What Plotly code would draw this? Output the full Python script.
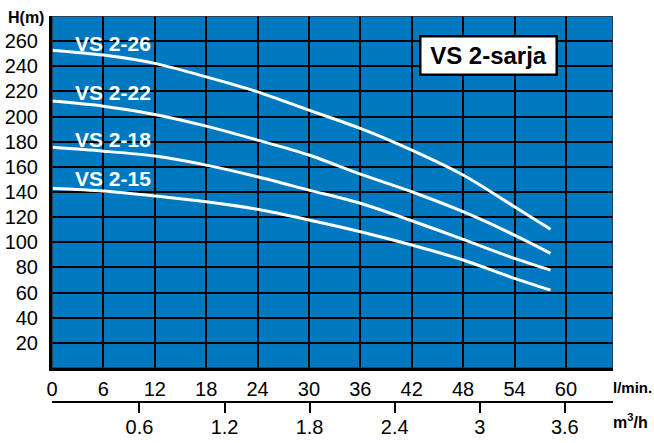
import plotly.graph_objects as go

# Flow (l/min) sample points
flow = [0, 6, 12, 18, 24, 30, 36, 42, 48, 54, 58.2]

# Head (m) for each pump model
vs_2_26 = [252.8, 248.9, 242.3, 231.6, 219.7, 205.1, 190.6, 173.3, 153.5, 128.3, 110.3]
vs_2_22 = [212.3, 208.3, 201.7, 192.4, 181.3, 169.4, 154.2, 140.2, 124.3, 105.7, 91.2]
vs_2_18 = [175.5, 172.5, 168.6, 161.4, 152.1, 141.5, 131.0, 117.1, 102.3, 87.2, 77.9]
vs_2_15 = [142.9, 140.7, 136.8, 132.2, 126.2, 117.7, 108.4, 97.8, 85.9, 71.3, 62.0]

series_names = ["VS 2-26", "VS 2-22", "VS 2-18", "VS 2-15"]
series_values = [vs_2_26, vs_2_22, vs_2_18, vs_2_15]
label_y = [258.5, 219, 182, 151]
label_x = 2.4

x_ticks = [0, 6, 12, 18, 24, 30, 36, 42, 48, 54, 60]
y_ticks = [20, 40, 60, 80, 100, 120, 140, 160, 180, 200, 220, 240, 260]
m3h_ticks = [0.6, 1.2, 1.8, 2.4, 3, 3.6]
m3h_labels = ["0.6", "1.2", "1.8", "2.4", "3", "3.6"]

title_box = "VS 2-sarja"

BLUE = "#0079C1"
FONT = "Liberation Sans"

fig = go.Figure()
for name, vals in zip(series_names, series_values):
    fig.add_trace(go.Scatter(
        x=flow, y=vals, mode="lines", name=name,
        line=dict(color="white", width=3, shape="spline", smoothing=0.8),
        hoverinfo="x+y+name", showlegend=False,
    ))

# invisible trace for secondary axis
fig.add_trace(go.Scatter(x=[m3h_ticks[0]], y=[0], xaxis="x2", yaxis="y",
                         mode="markers", marker=dict(opacity=0, size=1), showlegend=False,
                         hoverinfo="skip"))

W, H = 654, 443
left, right, top, bottom2 = 52, 613, 16, 402
plot_bottom = 368
ydom0 = (bottom2 - plot_bottom) / (bottom2 - top)

fig.update_layout(
    width=W, height=H,
    margin=dict(l=left, r=W - right, t=top, b=H - bottom2, pad=0),
    paper_bgcolor="white",
    plot_bgcolor=BLUE,
    font=dict(family=FONT, size=20, color="black"),
    xaxis=dict(
        range=[0, 65.5], tickvals=x_ticks, ticktext=[str(v) for v in x_ticks],
        showgrid=True, gridcolor="black", gridwidth=1.6,
        showline=True, linecolor="black", linewidth=3,
        ticks="outside", ticklen=1, tickcolor="rgba(0,0,0,0)",
        zeroline=False, anchor="y", fixedrange=True, automargin=False,
        tickfont=dict(size=20, family=FONT),
    ),
    yaxis=dict(
        range=[0, 280], tickvals=y_ticks, ticktext=[str(v) for v in y_ticks],
        domain=[ydom0, 1],
        showgrid=True, gridcolor="black", gridwidth=1.6,
        showline=True, linecolor="black", linewidth=3,
        ticks="outside", ticklen=7, tickcolor="rgba(0,0,0,0)",
        zeroline=False, fixedrange=True, automargin=False,
        tickfont=dict(size=20, family=FONT),
    ),
    xaxis2=dict(
        range=[-0.017, 3.94], overlaying="x", anchor="free", position=0,
        side="bottom", tickvals=m3h_ticks, ticktext=m3h_labels,
        showgrid=False, showline=True, linecolor="black", linewidth=1.5,
        ticks="outside", ticklen=10, tickwidth=1.5, tickcolor="black",
        ticklabelstandoff=-3,
        zeroline=False, fixedrange=True, automargin=False,
        tickfont=dict(size=20, family=FONT),
    ),
)

# top/right border of plot area
fig.add_shape(type="rect", xref="x", yref="y", x0=0, x1=65.5, y0=0, y1=280,
              line=dict(color="#333333", width=1.5), layer="above")

# curve labels
for name, ly in zip(series_names, label_y):
    fig.add_annotation(x=label_x, y=ly, xref="x", yref="y", text="<b>" + name + "</b>",
                       showarrow=False, xanchor="left", yanchor="middle",
                       font=dict(color="white", size=21, family=FONT))

# title box
fig.add_annotation(x=51.0, y=248.6, xref="x", yref="y", text="<b>" + title_box + "</b>",
                   showarrow=False, xanchor="center", yanchor="middle",
                   font=dict(color="black", size=24, family=FONT),
                   bgcolor="white", bordercolor="black", borderwidth=2.5,
                   borderpad=3, width=128, height=30)

# axis unit labels (positions given in pixels, converted to paper coords)
pw = right - left
ph = bottom2 - top
def px_to_paper(px, py):
    return (px - left) / pw, (bottom2 - py) / ph

hx, hy = px_to_paper(26, 17.5)
fig.add_annotation(x=hx, y=hy, xref="paper", yref="paper", text="<b>H(m)</b>",
                   showarrow=False, xanchor="center", yanchor="middle",
                   font=dict(size=16, family=FONT))
lx, ly = px_to_paper(611, 387)
fig.add_annotation(x=lx, y=ly, xref="paper", yref="paper", text="<b>l/min.</b>",
                   showarrow=False, xanchor="left", yanchor="middle",
                   font=dict(size=15, family=FONT))
mx, my = px_to_paper(611, 421)
fig.add_annotation(x=mx, y=my, xref="paper", yref="paper", text="<b>m<sup>3</sup>/h</b>",
                   showarrow=False, xanchor="left", yanchor="middle",
                   font=dict(size=16, family=FONT))

fig.write_html("out.html", config={"displayModeBar": False},
               post_script="document.body.style.margin='0';document.body.style.overflow='hidden';")
